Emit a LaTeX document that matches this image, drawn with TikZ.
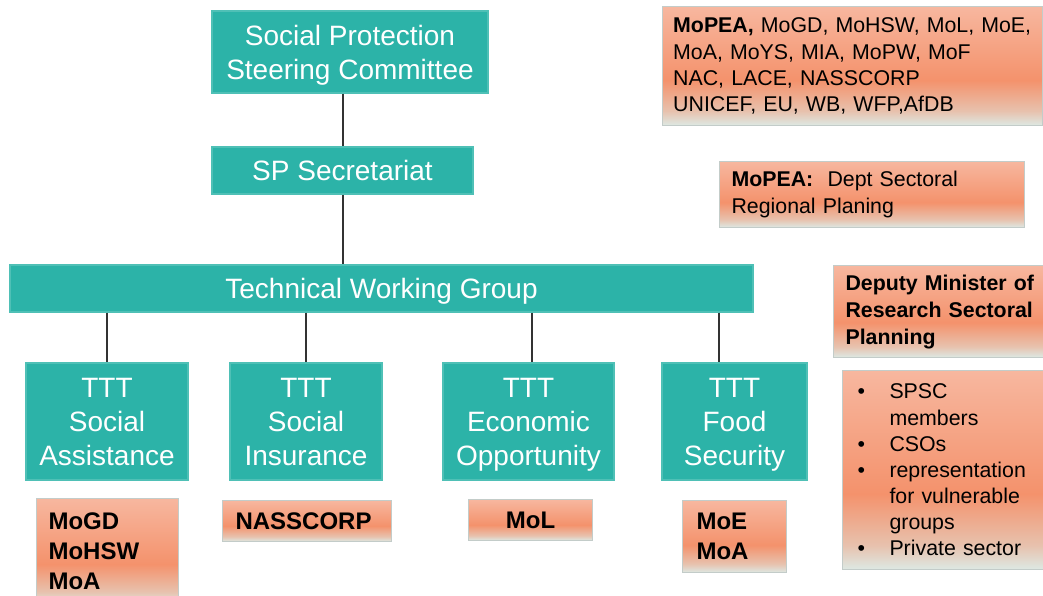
\documentclass[tikz,border=0pt]{standalone}
\usepackage{fontspec}
\setmainfont{Liberation Sans}
\usepackage{tikz}
\usetikzlibrary{positioning,calc}

\definecolor{tealFill}{HTML}{2CB3A8}
\definecolor{tealEdge}{HTML}{4FC0B6}
\definecolor{linkGrey}{HTML}{333333}
\definecolor{noteEdge}{HTML}{C3CCC9}
\definecolor{salTop}{HTML}{F7B79F}
\definecolor{salMid}{HTML}{F4926C}
\definecolor{salBot}{HTML}{DDE9E4}
\colorlet{salLow}{salMid!45!salBot}
\pgfdeclareverticalshading{salmonfade}{100bp}{color(0bp)=(salBot); color(25bp)=(salBot); color(31bp)=(salLow); color(44bp)=(salMid); color(75bp)=(salTop); color(100bp)=(salTop)}

\begin{document}
\begin{tikzpicture}[
        x=0.75pt, y=-0.75pt,
        orgbox/.style={draw=tealEdge, line width=0.8pt, fill=tealFill, text=white, align=center, inner sep=0pt, text depth=0pt, font=\fontsize{21}{25.5}\selectfont},
        notebox/.style={draw=noteEdge, line width=0.8pt, shading=salmonfade, anchor=north west, align=left, inner ysep=0pt, font=\fontsize{16}{19.6}\selectfont},
        listbox/.style={notebox, font=\fontsize{18}{22.5}\selectfont\bfseries},
        link/.style={draw=linkGrey, line width=1.5pt}
    ]
    \useasboundingbox (0,0) rectangle (1043,596);

    % Committee, secretariat and working group
    \node[orgbox, minimum width=207pt, minimum height=61.5pt] (spsc) at (350,52) {Social Protection\\Steering Committee};
    \node[orgbox, minimum width=195.75pt, minimum height=35.25pt] (sec) at (342.5,170.5) {SP Secretariat};
    \node[orgbox, minimum width=557.25pt, minimum height=35.25pt] (twg) at (381.5,288.5) {Technical Working Group};

    % Thematic teams
    \node[orgbox, minimum width=121.5pt, minimum height=87.75pt] (assist) at (107,421.5) {TTT\\Social\\Assistance};
    \node[orgbox, minimum width=114pt, minimum height=87.75pt] (insure) at (306,421.5) {TTT\\Social\\Insurance};
    \node[orgbox, minimum width=128.25pt, minimum height=87.75pt] (econ) at (528.5,421.5) {TTT\\Economic\\Opportunity};
    \node[orgbox, minimum width=108.75pt, minimum height=87.75pt] (food) at (734.5,421.5) {TTT\\Food\\Security};

    % Lead ministries under each team
    \node[listbox, inner xsep=9pt, text width=88.5pt, minimum height=79.5pt] (mogd) at (36,498) {MoGD\\MoHSW\\MoA};
    \node[listbox, inner xsep=9.75pt, text width=107.25pt, minimum height=30.75pt] (nass) at (222,500) {NASSCORP};
    \node[listbox, inner xsep=9pt, text width=75pt, minimum height=30.75pt, align=center] (mol) at (468,499) {MoL};
    \node[listbox, inner xsep=10.5pt, text width=57pt, minimum height=54pt] (moe) at (682,500) {MoE\\MoA};

    % Notes on the right
    \node[notebox, inner xsep=8pt, text width=269pt, minimum height=89.25pt] (members) at (662,6) {%
        \textbf{MoPEA,} MoGD, MoHSW, MoL, MoE,\\
        MoA, MoYS, MIA, MoPW, MoF\\
        NAC, LACE, NASSCORP\\
        UNICEF, EU, WB, WFP,AfDB};
    \node[notebox, inner xsep=9pt, text width=210.75pt, minimum height=49.5pt, font=\fontsize{16}{20.25}\selectfont] (mopea) at (719,161) {%
        \textbf{MoPEA:}\ \ Dept Sectoral\\
        Regional Planing};
    \node[notebox, inner xsep=9pt, text width=143.25pt, minimum height=69pt, font=\fontsize{16}{20.25}\selectfont\bfseries] (deputy) at (833,265) {%
        Deputy Minister of\\
        Research Sectoral\\
        Planning};
    \node[notebox, inner xsep=11.25pt, text width=132pt, minimum height=149.25pt] (csos) at (842,370) {%
        \makebox[24pt][l]{\textbullet}SPSC\\
        \hspace*{24pt}members\\
        \makebox[24pt][l]{\textbullet}CSOs\\
        \makebox[24pt][l]{\textbullet}representation\\
        \hspace*{24pt}for vulnerable\\
        \hspace*{24pt}groups\\
        \makebox[24pt][l]{\textbullet}Private sector};

    % Connectors
    \draw[link] (sec.north |- spsc.south) -- (sec.north);
    \draw[link] (sec.south) -- (sec.south |- twg.north);
    \draw[link] (assist.north |- twg.south) -- (assist.north);
    \draw[link] (insure.north |- twg.south) -- (insure.north);
    \draw[link] ([xshift=2.6pt]econ.north |- twg.south) -- ([xshift=2.6pt]econ.north);
    \draw[link] ([xshift=-11.6pt]food.north |- twg.south) -- ([xshift=-11.6pt]food.north);
\end{tikzpicture}
\end{document}
